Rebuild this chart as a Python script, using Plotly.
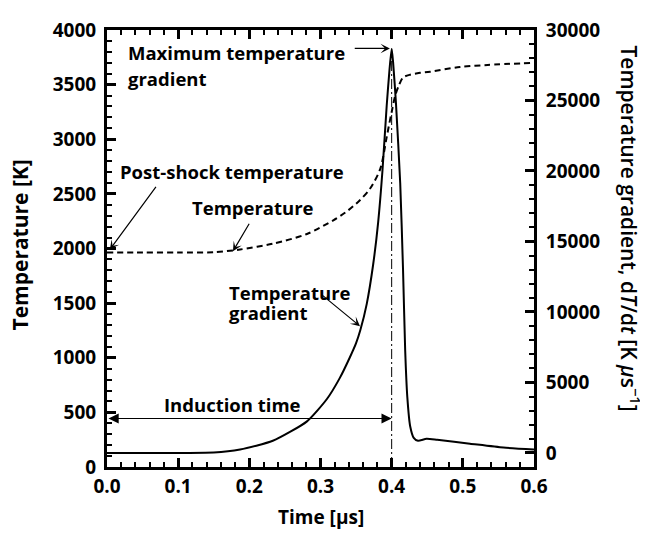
import plotly.graph_objects as go

# ---- data ----
temp_time = [0.0, 0.05, 0.10, 0.15, 0.187, 0.233, 0.281, 0.318, 0.335, 0.355, 0.37, 0.384,
             0.393, 0.396, 0.400, 0.405, 0.410, 0.416, 0.426, 0.44, 0.454,
             0.496, 0.535, 0.60]
temperature = [1964, 1964, 1964, 1966, 1991, 2044, 2133, 2258, 2330, 2440, 2551, 2729,
               3020, 3120, 3250, 3400, 3490, 3565, 3591, 3608, 3618,
               3662, 3680, 3700]

grad_time = [0.0, 0.05, 0.10, 0.15, 0.187, 0.233, 0.281, 0.309, 0.327, 0.341, 0.350, 0.356,
             0.365, 0.374, 0.381, 0.387, 0.393, 0.397, 0.400, 0.402, 0.406, 0.412, 0.416,
             0.419, 0.422, 0.426, 0.431, 0.437, 0.449, 0.464, 0.51, 0.557, 0.60]
gradient = [0, 0, 0, 20, 241, 861, 2238, 3823, 5304, 6751, 7784, 8714,
            10574, 13364, 16360, 19977, 24627, 27210, 28657, 27727, 24834, 19150, 12951,
            7267, 3961, 1894, 1068, 861, 998, 930, 654, 378, 241]

peak_time = [0.4, 0.4]
peak_line_T = [0, 3830]

x_ticks = [0.0, 0.1, 0.2, 0.3, 0.4, 0.5, 0.6]
y_ticks = [0, 500, 1000, 1500, 2000, 2500, 3000, 3500, 4000]
y2_ticks = [0, 5000, 10000, 15000, 20000, 25000, 30000]

FONT = "Open Sans"
tickfont = dict(family=FONT, size=19, color="black", weight="bold")
annfont = dict(family=FONT, size=18.5, color="black", weight="bold")

fig = go.Figure()
fig.add_trace(go.Scatter(x=temp_time, y=temperature, mode="lines",
                         line=dict(color="black", width=2, dash="6px,4px",
                                   shape="spline", smoothing=0.8),
                         yaxis="y"))
fig.add_trace(go.Scatter(x=grad_time, y=gradient, mode="lines",
                         line=dict(color="black", width=2, shape="spline", smoothing=0.6),
                         yaxis="y2"))
fig.add_trace(go.Scatter(x=peak_time, y=peak_line_T, mode="lines",
                         line=dict(color="black", width=1, dash="10px,3px,2px,3px"),
                         yaxis="y"))

axis_common = dict(showline=True, linecolor="black", linewidth=3, ticks="inside",
                   tickcolor="black", tickwidth=3, ticklen=9, showgrid=False,
                   zeroline=False, tickfont=tickfont, ticklabeloverflow="allow")

# page body has an 8px margin, so the figure is 640x525 and offset accordingly
fig.update_layout(
    width=640, height=525,
    margin=dict(l=99, r=114, t=9, b=66),
    paper_bgcolor="white", plot_bgcolor="white",
    font=dict(family=FONT, color="black"),
    showlegend=False,
    xaxis=dict(range=[0, 0.6], tickvals=x_ticks, tickformat=".1f", mirror="ticks",
               minor=dict(dtick=0.02, ticks="inside", ticklen=5, tickwidth=2, tickcolor="black"),
               **axis_common),
    yaxis=dict(range=[0, 4000], tickvals=y_ticks, tickformat="d", ticklabelstandoff=4,
               minor=dict(dtick=100, ticks="inside", ticklen=5, tickwidth=2, tickcolor="black"),
               **axis_common),
    yaxis2=dict(range=[-1000, 30000], tickvals=y2_ticks, tickformat="d", overlaying="y",
                side="right", ticklabelstandoff=5,
                minor=dict(dtick=1000, tick0=0, ticks="inside", ticklen=5, tickwidth=2,
                           tickcolor="black"),
                **axis_common),
)

anns = []
# axis titles
anns.append(dict(text="Time [μs]", xref="paper", yref="paper", x=0.5, y=0, yshift=-50,
                 xanchor="center", yanchor="middle", showarrow=False,
                 font=dict(family=FONT, size=19, weight="bold", color="black")))
anns.append(dict(text="Temperature [K]", xref="paper", yref="paper", x=0, y=0.5,
                 xshift=-88, yshift=3,
                 xanchor="center", yanchor="middle", textangle=-90, showarrow=False,
                 font=dict(family=FONT, size=21, weight="bold", color="black")))
anns.append(dict(text="Temperature gradient, d<i>T</i>/d<i>t</i> [K <i>μ</i>s<sup>−1</sup>]",
                 xref="paper", yref="paper", x=1, y=0.5, xshift=96, yshift=20,
                 xanchor="center", yanchor="middle", textangle=90, showarrow=False,
                 font=dict(family=FONT, size=21, weight=600, color="black")))

def label(text, x, y, xanchor="left"):
    anns.append(dict(text=text, x=x, y=y, xref="x", yref="y", xanchor=xanchor, yanchor="middle",
                     showarrow=False, font=annfont))

label("Maximum temperature", 0.026, 3796)
label("gradient", 0.026, 3556)
label("Post-shock temperature", 0.016, 2702)
label("Temperature", 0.205, 2373, "center")
label("Temperature", 0.168, 1600)
label("gradient", 0.168, 1413)
label("Induction time", 0.177, 569, "center")

def arrow(x0, y0, x1, y1, head=3, size=1.3, both=False):
    d = dict(x=x1, y=y1, ax=x0, ay=y0, xref="x", yref="y", axref="x", ayref="y",
             text="", showarrow=True, arrowhead=head, arrowsize=size, arrowwidth=1.2,
             arrowcolor="black")
    if both:
        d.update(arrowside="end+start", startarrowhead=head, startarrowsize=size)
    anns.append(d)

arrow(0.346, 3831, 0.3975, 3831)
arrow(0.0703, 2578, 0.004, 1990)
arrow(0.201, 2240, 0.177, 1975)
arrow(0.299, 1591, 0.3555, 1289)
arrow(0.0, 444, 0.4, 444, head=2, size=1.7, both=True)

fig.update_layout(annotations=anns)
fig.write_html("out.html")
